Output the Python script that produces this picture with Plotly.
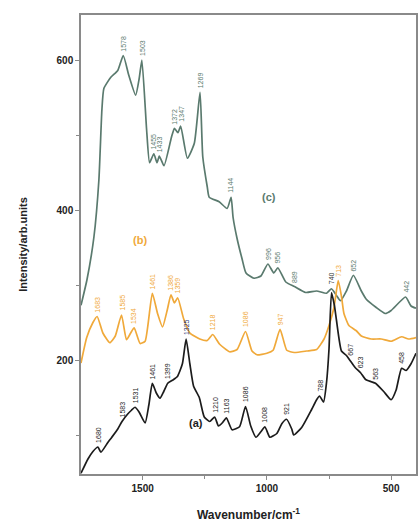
import numpy as np
import plotly.graph_objects as go

# Spectrum (c): wavenumber / intensity
wn_c = [1748, 1724, 1696, 1676, 1664, 1656, 1628, 1600, 1578, 1556, 1528, 1514, 1503,
        1484, 1472, 1455, 1442, 1433, 1414, 1384, 1372, 1358, 1347, 1320, 1292, 1269,
        1258, 1240, 1232, 1192, 1160, 1144, 1136, 1120, 1100, 1084, 1052, 1024, 996,
        972, 956, 924, 889, 844, 800, 760, 740, 720, 704, 680, 652, 620, 600, 560,
        524, 500, 442, 420, 400]
int_c = [273, 307, 364, 440, 533, 562, 577, 586, 606, 580, 553, 575, 600,
         507, 463, 475, 463, 472, 459, 497, 509, 503, 512, 469, 489, 557,
         471, 431, 417, 411, 402, 417, 390, 362, 335, 316, 309, 312, 328,
         316, 323, 304, 298, 290, 292, 289, 295, 286, 279, 292, 313, 292, 281, 270,
         262, 266, 284, 272, 269]

# Spectrum (b)
wn_b = [1748, 1725, 1700, 1683, 1660, 1632, 1610, 1585, 1565, 1548, 1534, 1510, 1490,
        1461, 1440, 1420, 1400, 1386, 1372, 1359, 1335, 1310, 1270, 1240, 1218, 1190,
        1150, 1120, 1086, 1060, 1040, 1000, 975, 947, 920, 890, 840, 800, 770, 750,
        730, 713, 700, 690, 670, 640, 620, 580, 540, 500, 458, 430, 400]
int_b = [196, 230, 250, 258, 236, 223, 232, 260, 227, 236, 243, 222, 225,
         289, 262, 244, 268, 287, 276, 283, 255, 236, 228, 226, 234, 221,
         211, 214, 238, 212, 207, 209, 213, 241, 213, 210, 212, 214, 228, 246,
         270, 306, 285, 262, 246, 239, 232, 228, 228, 225, 231, 228, 230]

# Spectrum (a)
wn_a = [1748, 1720, 1700, 1680, 1668, 1640, 1624, 1600, 1583, 1560, 1545, 1531, 1515,
        1490, 1475, 1461, 1445, 1430, 1415, 1399, 1380, 1360, 1340, 1325, 1310, 1295,
        1272, 1252, 1230, 1210, 1195, 1180, 1163, 1140, 1110, 1086, 1065, 1044, 1025,
        1008, 988, 960, 940, 921, 900, 892, 860, 820, 800, 788, 772, 760, 750, 740,
        728, 720, 700, 680, 667, 645, 623, 603, 580, 563, 530, 500, 480, 458, 440,
        420, 400]
int_a = [49, 68, 78, 84, 77, 90, 97, 108, 118, 128, 133, 137, 131,
         116, 140, 169, 156, 149, 158, 169, 173, 178, 195, 228, 195, 165,
         150, 124, 118, 124, 112, 116, 123, 107, 111, 138, 112, 97, 104,
         111, 97, 102, 115, 121, 108, 100, 110, 134, 147, 152, 144, 170, 215, 290,
         272, 253, 212, 206, 200, 190, 183, 174, 171, 169, 158, 147, 160, 189, 186,
         195, 209]

# Peak positions annotated on each spectrum
peaks_c = [1578, 1503, 1455, 1433, 1372, 1347, 1269, 1144, 996, 956, 889, 740, 652, 442]
peaks_b = [1683, 1585, 1534, 1461, 1386, 1359, 1218, 1086, 947, 713]
peaks_a = [1680, 1583, 1531, 1461, 1399, 1325, 1210, 1163, 1086, 1008, 921, 788,
           667, 623, 563, 458]

# Curve identifiers and their anchor points
curve_tags = ["(a)", "(b)", "(c)"]
tag_pos_wn = [1284, 1512, 992]
tag_pos_int = [116, 360, 417]

col_a = "#1c1c1c"
col_b = "#f0a93a"
col_c = "#5a7a6e"

fig = go.Figure()
for wn, inten, col in [(wn_c, int_c, col_c), (wn_b, int_b, col_b), (wn_a, int_a, col_a)]:
    fig.add_trace(go.Scatter(x=wn, y=inten, mode="lines",
                             line=dict(color=col, width=1.7, shape="spline", smoothing=0.5),
                             showlegend=False, hoverinfo="skip"))


def peak_labels(peaks, wn, inten, col, special=None):
    order = np.argsort(wn)
    xs = np.array(wn)[order]
    ys = np.array(inten)[order]
    for p in peaks:
        yv = float(np.interp(p, xs, ys))
        c = col if not special or p not in special else special[p]
        fig.add_annotation(x=p, y=yv, text=str(p), textangle=-90, showarrow=False,
                           xanchor="center", yanchor="bottom", yshift=2,
                           font=dict(family="Arial", size=7, color=c))


peak_labels(peaks_c, wn_c, int_c, col_c, special={740: "#333333"})
peak_labels(peaks_b, wn_b, int_b, col_b)
peak_labels(peaks_a, wn_a, int_a, col_a, special={1325: "#2b3a78"})

tag_cols = [col_a, col_b, col_c]
for t, xw, yi, c in zip(curve_tags, tag_pos_wn, tag_pos_int, tag_cols):
    fig.add_annotation(x=xw, y=yi, text="<b>%s</b>" % t, showarrow=False,
                       font=dict(family="Arial", size=11, color=c))

axis_common = dict(showgrid=False, zeroline=False, showline=True, mirror=True,
                   linecolor="#8a8a8a", linewidth=1.5, ticks="outside", ticklen=4,
                   tickcolor="#8a8a8a", tickwidth=1.2,
                   tickfont=dict(family="Arial", size=10, color="#222222", weight="bold"))

fig.update_xaxes(range=[1748, 400], tick0=0, dtick=500,
                 minor=dict(dtick=250, ticks="outside", ticklen=3, tickcolor="#8a8a8a"),
                 title=dict(text="<b>Wavenumber/cm<sup>-1</sup></b>", standoff=18,
                            font=dict(family="Arial", size=12, color="#222222")),
                 **axis_common)
fig.update_yaxes(range=[48, 660], tick0=0, dtick=200,
                 minor=dict(dtick=100, ticks="outside", ticklen=3, tickcolor="#8a8a8a"),
                 title=dict(text="<b>Intensity/arb.units</b>", standoff=27,
                            font=dict(family="Arial", size=11, color="#222222")),
                 **axis_common)

fig.update_layout(width=419, height=525, margin=dict(l=81, r=1, t=15, b=51),
                  paper_bgcolor="white", plot_bgcolor="white")

fig.write_html("out.html")
